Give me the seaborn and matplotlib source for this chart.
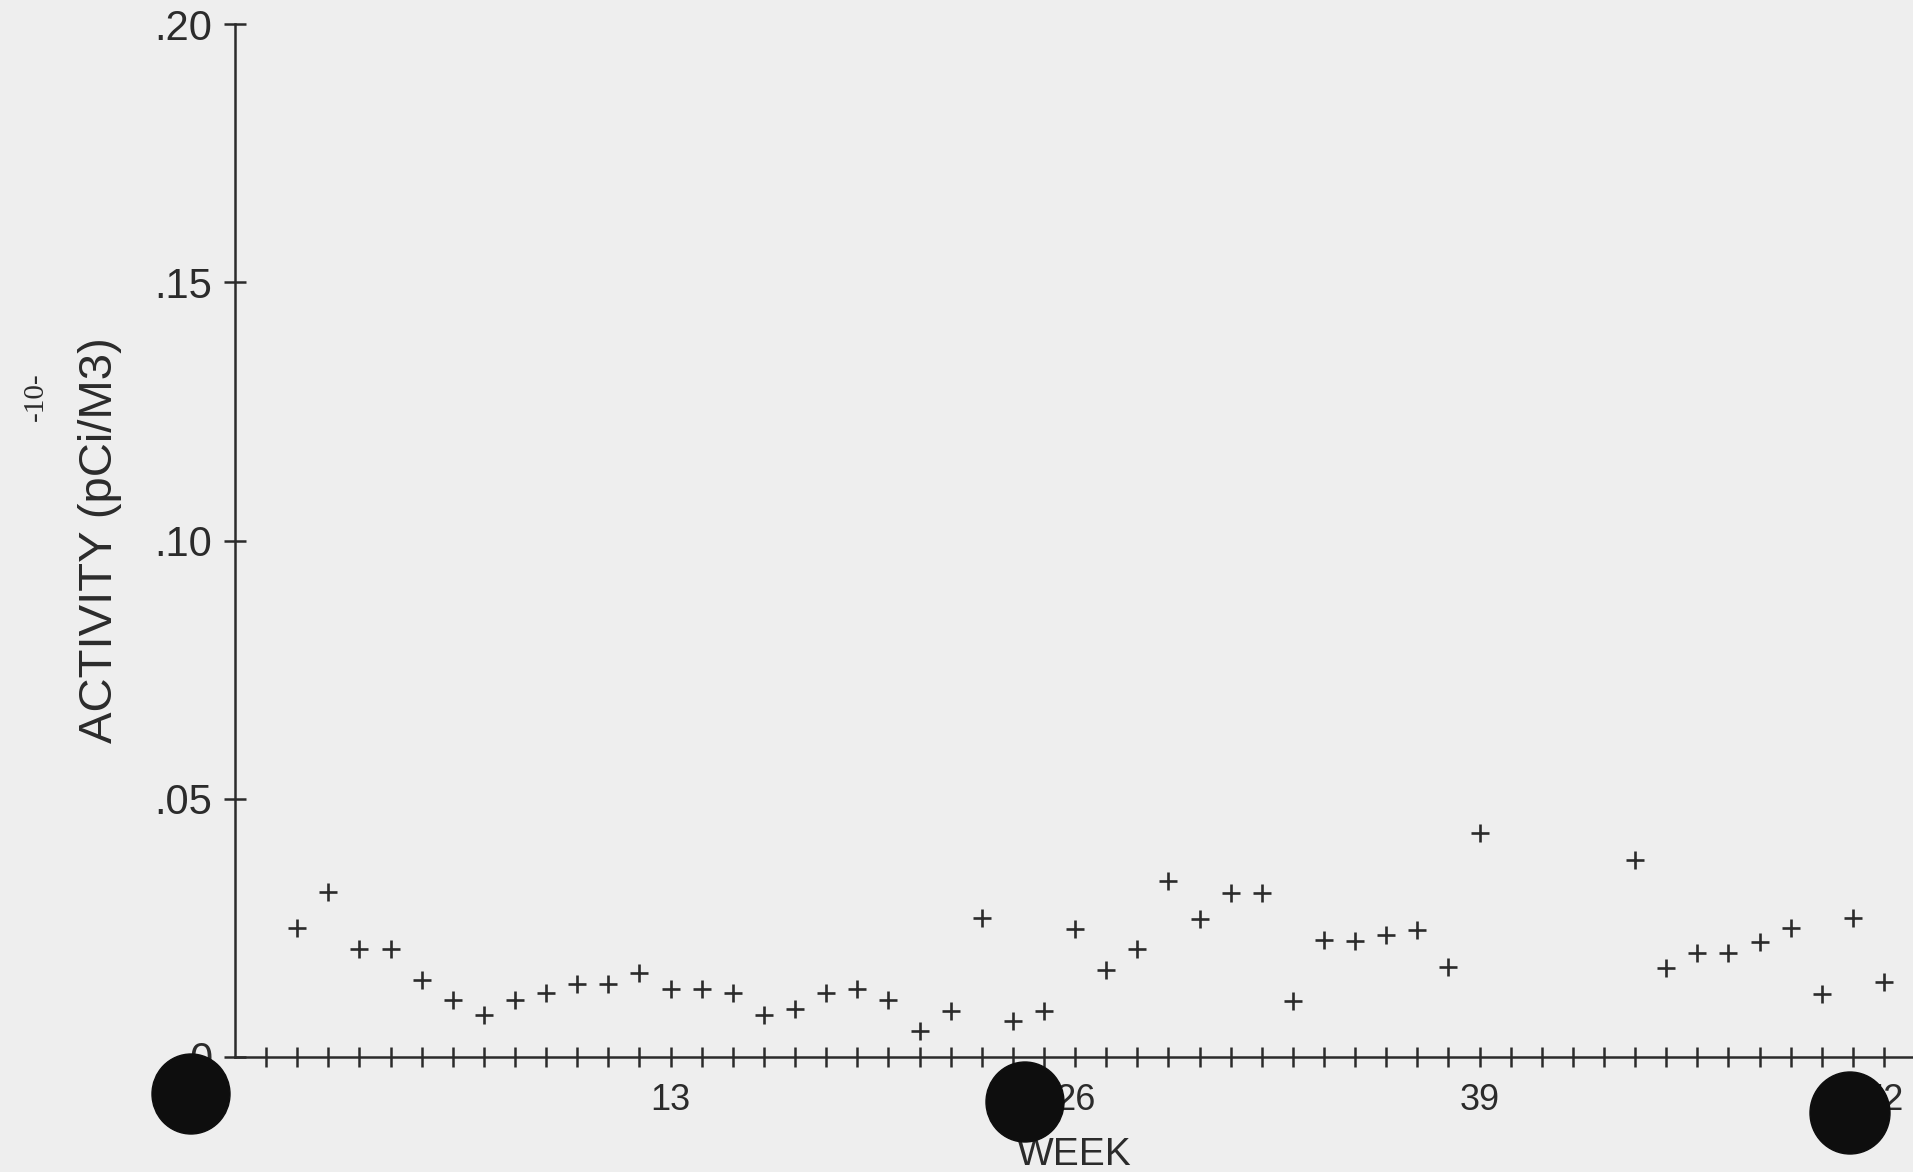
import numpy as np
import pandas as pd
import matplotlib
matplotlib.use("Agg")
import matplotlib.pyplot as plt
from matplotlib.patches import Ellipse
from matplotlib.ticker import FixedLocator, FixedFormatter
import seaborn as sns

# Weekly air-sample activity (no samples for weeks 40-43)
weeks = [1, 2, 3, 4, 5, 6, 7, 8, 9, 10, 11, 12, 13,
         14, 15, 16, 17, 18, 19, 20, 21, 22, 23, 24, 25, 26,
         27, 28, 29, 30, 31, 32, 33, 34, 35, 36, 37, 38, 39,
         44, 45, 46, 47, 48, 49, 50, 51, 52]
activity = [0.0250, 0.0320, 0.0209, 0.0209, 0.0150, 0.0111, 0.0082, 0.0111, 0.0123,
            0.0142, 0.0142, 0.0162, 0.0132,
            0.0132, 0.0123, 0.0082, 0.0092, 0.0123, 0.0132, 0.0111, 0.0050, 0.0090,
            0.0270, 0.0069, 0.0089, 0.0247,
            0.0168, 0.0209, 0.0340, 0.0268, 0.0318, 0.0318, 0.0108, 0.0226, 0.0224,
            0.0236, 0.0245, 0.0174, 0.0433,
            0.0382, 0.0172, 0.0202, 0.0202, 0.0222, 0.0250, 0.0122, 0.0270, 0.0145]

y_ticks = [0.0, 0.05, 0.10, 0.15, 0.20]
y_tick_labels = ["0", ".05", ".10", ".15", ".20"]
x_tick_weeks = list(range(0, 53))
x_labelled_weeks = [13, 26, 39, 52]
x_title = "WEEK"
y_title = "ACTIVITY (pCi/M3)"
page_number = "-10-"

# binder punch holes along the bottom of the sheet (pixel centre x, y, width, height)
holes = [(191, 1094, 78, 80), (1025, 1102, 78, 80), (1850, 1113, 80, 82)]

sns.set_theme(style="ticks")
plt.rcParams["font.family"] = ["Liberation Sans", "DejaVu Sans"]

ink = "#2b2b2b"
paper = "#eeeeee"
W, H = 1913, 1172

fig = plt.figure(figsize=(W / 100, H / 100), dpi=100, facecolor=paper)
ax = fig.add_axes([235 / W, 1 - 1057 / H, 1 - 235 / W, (1057 - 24) / H])
ax.set_facecolor(paper)

df = pd.DataFrame({"week": weeks, "activity": activity})
sns.scatterplot(data=df, x="week", y="activity", marker="+", s=180,
                color=ink, linewidth=1.9, ax=ax, legend=False, zorder=3)

ax.set_xlim(-1, 52.93)
ax.set_ylim(0, 0.20)

ax.xaxis.set_major_locator(FixedLocator(x_tick_weeks))
ax.xaxis.set_major_formatter(FixedFormatter(
    [str(w) if w in x_labelled_weeks else "" for w in x_tick_weeks]))
ax.set_yticks(y_ticks, y_tick_labels)

ax.tick_params(axis="x", direction="inout", length=14, width=1.8, color=ink,
               labelsize=26, labelcolor=ink, pad=12)
ax.tick_params(axis="y", direction="inout", length=16.5, width=1.8, color=ink,
               labelsize=30, labelcolor=ink, pad=8)

sns.despine(ax=ax)
for side in ("left", "bottom"):
    ax.spines[side].set_linewidth(1.8)
    ax.spines[side].set_color(ink)
ax.grid(False)

ax.set_xlabel(x_title, fontsize=28, color=ink)
ax.xaxis.set_label_coords(0.5, -0.077)
ax.set_ylabel(y_title, fontsize=34, color=ink, va="center")
ax.yaxis.set_label_coords((100 - 235) / (W - 235), 0.5)

fig.text(36 / W, 1 - 397 / H, page_number, rotation=90, fontsize=21,
         family=["Liberation Serif", "DejaVu Serif"], ha="center", va="center", color=ink)

for cx, cy, w, h in holes:
    fig.add_artist(Ellipse((cx / W, 1 - cy / H), w / W, h / H,
                           transform=fig.transFigure, color="#0e0e0e", zorder=10))

fig.savefig("out.png", dpi=100, facecolor=paper)
